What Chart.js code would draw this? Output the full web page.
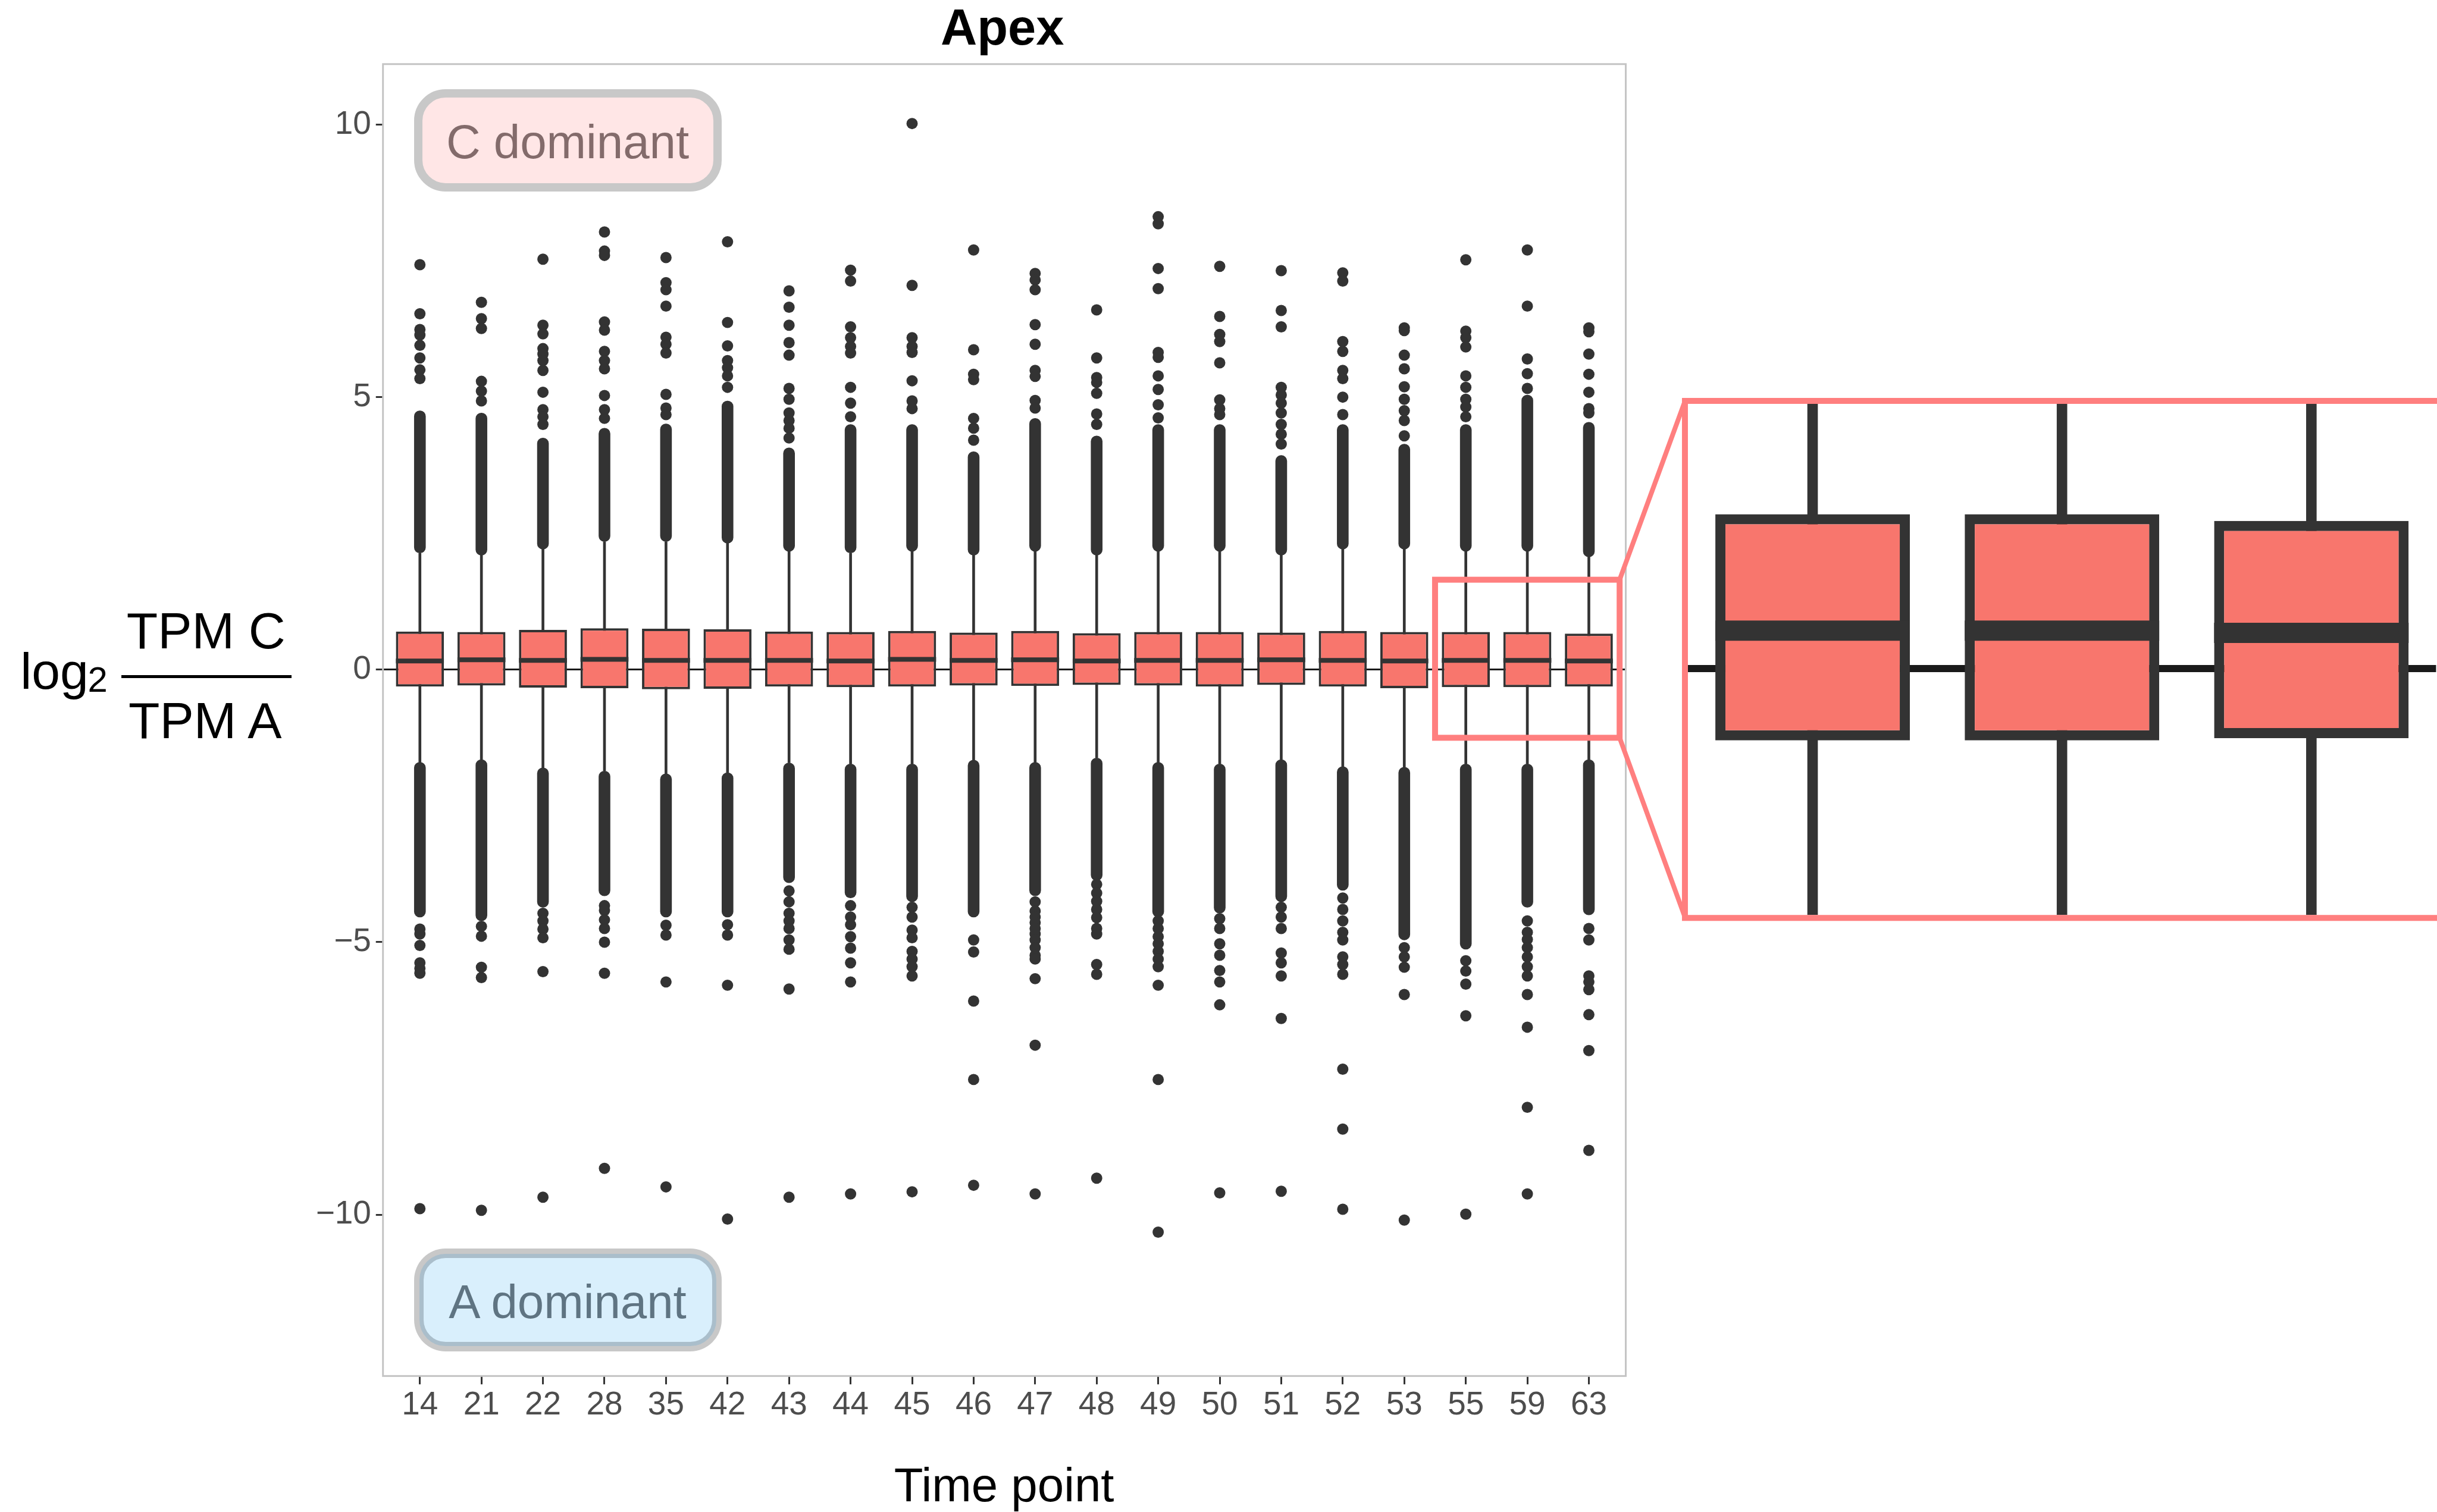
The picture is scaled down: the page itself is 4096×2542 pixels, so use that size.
<!DOCTYPE html>
<html lang="en">
<head>
	<meta charset="UTF-8"/>
	<title>Apex</title>
	<script src="https://cdn.jsdelivr.net/npm/chart.js"></script>
	<style>
		html, body {
			margin: 0;
			padding: 0;
			background: #ffffff;
		}
		body {
			position: relative;
			width: 4096px;
			height: 2542px;
			overflow: hidden;
			font-family: "Liberation Sans", Arial, Helvetica, sans-serif;
		}
		.layer {
			position: absolute;
		}
		.txt {
			position: absolute;
			white-space: nowrap;
			line-height: 1;
		}
		.tag {
			position: absolute;
			box-sizing: border-box;
		}
	</style>
</head>
<body>
<canvas id="mainChart" class="layer" width="4096" height="2542" style="left:0;top:0;"></canvas>
<canvas id="insetChart" class="layer"></canvas>

<script>
	const S = 0.998;   // reference -> window

	const categories = ["14", "21", "22", "28", "35", "42", "43", "44", "45", "46",
		"47", "48", "49", "50", "51", "52", "53", "55", "59", "63"];

	const q1 = [-0.31, -0.29, -0.33, -0.34, -0.36, -0.35, -0.31, -0.32, -0.31, -0.29,
		-0.30, -0.28, -0.29, -0.31, -0.28, -0.31, -0.34, -0.32, -0.32, -0.31];
	const median = [0.16, 0.18, 0.17, 0.19, 0.17, 0.17, 0.17, 0.16, 0.19, 0.17,
		0.18, 0.16, 0.17, 0.17, 0.18, 0.17, 0.16, 0.17, 0.17, 0.16];
	const q3 = [0.70, 0.69, 0.73, 0.76, 0.75, 0.74, 0.70, 0.69, 0.71, 0.68,
		0.71, 0.67, 0.69, 0.69, 0.68, 0.71, 0.69, 0.69, 0.69, 0.66];

	const whiskerLow = [-1.70, -1.65, -1.80, -1.86, -1.91, -1.89, -1.71, -1.73, -1.73, -1.66,
		-1.70, -1.62, -1.70, -1.73, -1.65, -1.78, -1.79, -1.73, -1.73, -1.65];
	const whiskerHigh = [2.14, 2.10, 2.21, 2.35, 2.35, 2.32, 2.17, 2.14, 2.17, 2.10,
		2.17, 2.10, 2.17, 2.17, 2.10, 2.21, 2.21, 2.17, 2.17, 2.07];

	// dense runs of outliers that merge into one column
	const upperDenseTop = [4.75, 4.71, 4.25, 4.43, 4.51, 4.93, 4.07, 4.50, 4.50, 4.00,
		4.61, 4.29, 4.50, 4.50, 3.93, 4.50, 4.14, 4.50, 5.04, 4.54];
	const lowerDenseBottom = [-4.54, -4.61, -4.36, -4.15, -4.54, -4.54, -3.91, -4.19, -4.26, -4.54,
		-4.15, -3.87, -4.54, -4.47, -4.26, -4.05, -4.96, -5.13, -4.36, -4.50];

	const upperPoints = [
		[7.43, 6.53, 6.24, 6.14, 5.95, 5.72, 5.50, 5.34],
		[6.74, 6.44, 6.26, 5.29, 5.11, 4.93],
		[7.53, 6.32, 6.16, 5.89, 5.79, 5.67, 5.49, 5.09, 4.77, 4.64, 4.50],
		[8.03, 7.68, 7.60, 6.38, 6.23, 5.84, 5.67, 5.52, 5.03, 4.77, 4.61],
		[7.56, 7.10, 6.97, 6.67, 6.10, 5.97, 5.81, 5.05, 4.80, 4.68],
		[7.85, 6.37, 5.94, 5.67, 5.54, 5.39, 5.18],
		[6.95, 6.65, 6.32, 6.00, 5.77, 5.16, 4.96, 4.71, 4.57, 4.43, 4.25],
		[7.33, 7.13, 6.29, 6.09, 5.93, 5.81, 5.18, 4.89, 4.64],
		[10.02, 7.05, 6.09, 5.93, 5.82, 5.30, 4.93, 4.79],
		[7.70, 5.87, 5.42, 5.32, 4.61, 4.43, 4.21],
		[7.27, 7.15, 6.97, 6.33, 5.97, 5.49, 5.38, 4.94, 4.80],
		[6.60, 5.72, 5.36, 5.27, 5.07, 4.69, 4.50],
		[8.31, 8.18, 7.36, 6.99, 5.82, 5.73, 5.39, 5.14, 4.86, 4.62],
		[7.40, 6.48, 6.15, 6.02, 5.63, 4.95, 4.79, 4.68],
		[7.32, 6.59, 6.29, 5.18, 5.04, 4.89, 4.71, 4.50, 4.32, 4.14],
		[7.28, 7.13, 6.02, 5.84, 5.49, 5.34, 5.00, 4.68],
		[6.27, 6.22, 5.77, 5.52, 5.19, 4.96, 4.75, 4.57, 4.29],
		[7.52, 6.21, 6.09, 5.92, 5.39, 5.18, 4.96, 4.82, 4.64],
		[7.70, 6.67, 5.70, 5.43, 5.16],
		[6.27, 6.20, 5.79, 5.42, 5.09, 4.79, 4.71]
	];

	const lowerPoints = [
		[-4.76, -4.85, -5.06, -5.38, -5.48, -5.57, -9.89],
		[-4.71, -4.89, -5.46, -5.65, -9.92],
		[-4.47, -4.61, -4.76, -4.92, -5.54, -9.68],
		[-4.33, -4.42, -4.59, -4.75, -5.00, -5.57, -9.15],
		[-4.69, -4.87, -5.73, -9.49],
		[-4.68, -4.87, -5.79, -10.08],
		[-4.06, -4.26, -4.47, -4.61, -4.75, -4.96, -5.13, -5.86, -9.68],
		[-4.33, -4.54, -4.68, -4.90, -5.11, -5.38, -5.73, -9.62],
		[-4.36, -4.54, -4.78, -4.92, -5.17, -5.31, -5.45, -5.62, -9.58],
		[-4.96, -5.18, -6.08, -7.52, -9.46],
		[-4.26, -4.43, -4.54, -4.64, -4.75, -4.85, -4.96, -5.10, -5.24, -5.31, -5.67, -6.89, -9.62],
		[-3.94, -4.10, -4.25, -4.40, -4.55, -4.75, -4.85, -5.41, -5.59, -9.33],
		[-4.61, -4.75, -4.90, -5.03, -5.17, -5.31, -5.45, -5.79, -7.52, -10.32],
		[-4.57, -4.75, -5.03, -5.24, -5.52, -5.73, -6.15, -9.60],
		[-4.36, -4.54, -4.75, -5.20, -5.38, -5.62, -6.40, -9.57],
		[-4.19, -4.40, -4.61, -4.82, -4.96, -5.27, -5.41, -5.59, -7.33, -8.43, -9.90],
		[-5.10, -5.27, -5.46, -5.96, -10.10],
		[-5.34, -5.53, -5.77, -6.35, -9.99],
		[-4.61, -4.82, -4.95, -5.10, -5.27, -5.45, -5.62, -5.96, -6.56, -8.03, -9.62],
		[-4.75, -4.96, -5.62, -5.73, -5.87, -6.33, -6.99, -8.82]
	];

	const yTicks = [-10, -5, 0, 5, 10];
	const yMin = -12.96, yMax = 11.11;

	// magnified window
	const zoomCats = ["55", "59", "63"];
	const zoomLow = -1.25, zoomHigh = 1.65;
	const insetYMin = -1.10, insetYMax = 1.183;

	// layout, reference pixels
	const plot = { left: 645, right: 2738, top: 108, bottom: 2318 };
	const insetArea = { left: 2843, top: 680, right: 4103, bottom: 1541 };
	const insetCanvas = { left: 2820, top: 650, height: 920 };

	const W = 4096, H = 2542;
	const ink = "#333333";
	const zoomPink = "#ff7f7f";

	Chart.defaults.font.family = '"Liberation Sans", Arial, Helvetica, sans-serif';

	const idx = categories.map((c, i) => i);
	const zoomStart = categories.indexOf(zoomCats[0]) - 0.5;
	const zoomEnd = categories.indexOf(zoomCats[zoomCats.length - 1]) + 0.5;

	function halfBox(chart) {
		const x = chart.scales.x;
		return Math.abs(x.getPixelForValue(1) - x.getPixelForValue(0)) * 0.78 / 2;
	}

	function boxSets(w) {
		return [
			{
				type: "scatter",
				data: idx.map(i => ({ x: i, y: median[i] })),
				pointStyle: "line",
				borderColor: ink,
				borderWidth: w.median,
				pointRadius: ctx => halfBox(ctx.chart),
				clip: 0,
				order: 0
			},
			{
				type: "bar",
				data: idx.map(i => ({ x: i, y: [q1[i], q3[i]] })),
				backgroundColor: "#F8766D",
				borderColor: ink,
				borderWidth: w.box,
				borderSkipped: false,
				grouped: false,
				barPercentage: 0.78,
				categoryPercentage: 1,
				clip: 0,
				order: 1
			},
			{
				type: "bar",
				data: idx.map(i => ({ x: i, y: [whiskerLow[i], whiskerHigh[i]] })),
				backgroundColor: ink,
				barThickness: w.whisker,
				grouped: false,
				clip: 0,
				order: 5
			}
		];
	}

	function bandSet(lo, hi) {
		return {
			type: "bar",
			data: idx.map(i => ({ x: i, y: [lo[i], hi[i]] })),
			backgroundColor: ink,
			barThickness: 19 * S,
			borderRadius: 9.5 * S,
			borderSkipped: false,
			grouped: false,
			order: 3
		};
	}

	const outliers = [];
	idx.forEach(i => {
		upperPoints[i].forEach(v => outliers.push({ x: i, y: v }));
		lowerPoints[i].forEach(v => outliers.push({ x: i, y: v }));
	});

	const mainSets = boxSets({ median: 8 * S, box: 4 * S, whisker: 4 * S }).concat([
		bandSet(whiskerHigh, upperDenseTop),
		bandSet(lowerDenseBottom, whiskerLow),
		{
			type: "scatter",
			data: outliers,
			pointRadius: 9.5 * S,
			backgroundColor: ink,
			borderWidth: 0,
			order: 2
		}
	]);

	const insetFrame = {
		left: (insetArea.left - 5) * S,
		top: (insetArea.top - 5) * S,
		bottom: (insetArea.bottom + 5) * S
	};

	const mainDecor = {
		id: "mainDecor",
		beforeDatasetsDraw(chart) {
			const { ctx, chartArea: a } = chart;
			ctx.save();
			ctx.strokeStyle = "#c4c4c4";
			ctx.lineWidth = 3 * S;
			ctx.strokeRect(a.left, a.top, a.right - a.left, a.bottom - a.top);
			ctx.restore();
		},
		afterDatasetsDraw(chart) {
			const { ctx, scales: { x, y } } = chart;
			const x0 = x.getPixelForValue(zoomStart), x1 = x.getPixelForValue(zoomEnd);
			const y0 = y.getPixelForValue(zoomHigh), y1 = y.getPixelForValue(zoomLow);
			ctx.save();
			ctx.strokeStyle = zoomPink;
			ctx.lineWidth = 10 * S;
			ctx.strokeRect(x0, y0, x1 - x0, y1 - y0);
			ctx.lineWidth = 8 * S;
			ctx.beginPath();
			ctx.moveTo(x1, y0);
			ctx.lineTo(insetFrame.left, insetFrame.top);
			ctx.moveTo(x1, y1);
			ctx.lineTo(insetFrame.left, insetFrame.bottom);
			ctx.stroke();
			ctx.restore();
		}
	};

	new Chart(document.getElementById("mainChart"), {
		type: "bar",
		data: { datasets: mainSets },
		options: {
			responsive: false,
			devicePixelRatio: 1,
			animation: false,
			events: [],
			layout: {
				padding: { left: 0, top: plot.top * S, right: W - plot.right * S, bottom: 0 }
			},
			plugins: {
				legend: { display: false },
				tooltip: { enabled: false },
				title: { display: false }
			},
			scales: {
				x: {
					type: "linear",
					min: -0.6,
					max: categories.length - 0.4,
					offset: false,
					afterBuildTicks: s => { s.ticks = idx.map(i => ({ value: i })); },
					afterFit: s => { s.height = H - plot.bottom * S; },
					ticks: {
						callback: v => categories[Math.round(v)],
						autoSkip: false,
						maxRotation: 0,
						color: "#4D4D4D",
						font: { size: 55 * S },
						padding: 3 * S
					},
					grid: {
						drawOnChartArea: false,
						offset: false,
						tickLength: 14 * S,
						tickColor: ink,
						tickWidth: 3 * S
					},
					border: { display: false }
				},
				y: {
					type: "linear",
					min: yMin,
					max: yMax,
					afterBuildTicks: s => { s.ticks = yTicks.map(v => ({ value: v })); },
					afterFit: s => { s.width = plot.left * S; },
					ticks: {
						callback: v => (v < 0 ? "\u2212" + Math.abs(v) : String(v)),
						color: "#4D4D4D",
						font: { size: 55 * S },
						padding: 8 * S
					},
					grid: {
						color: ctx => (ctx.tick && ctx.tick.value === 0 ? "#1a1a1a" : "rgba(0,0,0,0)"),
						lineWidth: 3 * S,
						tickColor: ink,
						tickWidth: 3 * S,
						tickLength: 12 * S
					},
					border: { display: false }
				}
			}
		},
		plugins: [mainDecor]
	});

	// magnified inset
	const insetEl = document.getElementById("insetChart");
	const insetLeft = insetCanvas.left * S;
	const insetTop = insetCanvas.top * S;
	const insetW = Math.round(W - insetLeft);
	const insetH = Math.round(insetCanvas.height * S);
	insetEl.width = insetW;
	insetEl.height = insetH;
	insetEl.style.left = insetLeft + "px";
	insetEl.style.top = insetTop + "px";

	const insetDecor = {
		id: "insetDecor",
		afterDatasetsDraw(chart) {
			const { ctx, chartArea: a } = chart;
			const h = 5 * S;
			ctx.save();
			ctx.strokeStyle = zoomPink;
			ctx.lineWidth = 10 * S;
			ctx.lineJoin = "miter";
			ctx.beginPath();
			ctx.moveTo(chart.width + 20, a.top - h);
			ctx.lineTo(a.left - h, a.top - h);
			ctx.lineTo(a.left - h, a.bottom + h);
			ctx.lineTo(chart.width + 20, a.bottom + h);
			ctx.stroke();
			ctx.restore();
		}
	};

	new Chart(insetEl, {
		type: "bar",
		data: { datasets: boxSets({ median: 34 * S, box: 17 * S, whisker: 17 * S }) },
		options: {
			responsive: false,
			devicePixelRatio: 1,
			animation: false,
			events: [],
			layout: {
				padding: {
					left: insetArea.left * S - insetLeft,
					top: insetArea.top * S - insetTop,
					right: insetW - (insetArea.right * S - insetLeft),
					bottom: insetH - (insetArea.bottom * S - insetTop)
				}
			},
			plugins: {
				legend: { display: false },
				tooltip: { enabled: false }
			},
			scales: {
				x: {
					type: "linear",
					min: zoomStart,
					max: zoomEnd,
					offset: false,
					display: false,
					afterBuildTicks: s => { s.ticks = idx.map(i => ({ value: i })); }
				},
				y: {
					type: "linear",
					min: insetYMin,
					max: insetYMax,
					afterBuildTicks: s => { s.ticks = [{ value: 0 }]; },
					afterFit: s => { s.width = 0; },
					ticks: { display: false },
					grid: { color: "#1a1a1a", lineWidth: 12 * S, drawTicks: false },
					border: { display: false }
				}
			}
		},
		plugins: [insetDecor]
	});

	// text and annotation tags
	function addText(text, x, baseline, size, opts) {
		const el = document.createElement("div");
		el.className = "txt";
		el.textContent = text;
		el.style.fontSize = size * S + "px";
		el.style.left = x * S + "px";
		el.style.top = (baseline - 0.8465 * size) * S + "px";
		el.style.color = opts.color || "#000000";
		if (opts.bold) el.style.fontWeight = "bold";
		if (opts.center) el.style.transform = "translateX(-50%)";
		document.body.appendChild(el);
	}

	function addBox(left, top, width, height, style) {
		const el = document.createElement("div");
		el.className = "tag";
		el.style.left = left * S + "px";
		el.style.top = top * S + "px";
		el.style.width = width * S + "px";
		el.style.height = height * S + "px";
		Object.assign(el.style, style);
		document.body.appendChild(el);
	}

	addText("Apex", 1688, 76, 85, { bold: true, center: true });
	addText("Time point", 1691, 2530, 80, { center: true });

	addText("log", 34.3, 1161, 86, {});
	addText("2", 147.8, 1166, 60, {});
	addText("TPM C", 347, 1093, 86, { center: true });
	addText("TPM A", 345.5, 1244, 86, { center: true });
	addBox(204.5, 1137, 286.5, 5, { background: "#000000" });

	addBox(697, 150, 518, 173, {
		background: "#FFE6E6",
		border: 15 * S + "px solid #C8C8C8",
		borderRadius: 53 * S + "px"
	});
	addText("C dominant", 956, 267.5, 80, { center: true, color: "#836B6B" });

	addBox(706, 2112, 500, 156, {
		background: "#D9EFFC",
		border: 8 * S + "px solid #AABECB",
		boxShadow: "0 0 0 " + 9 * S + "px #C8C8C8",
		borderRadius: 44 * S + "px"
	});
	addText("A dominant", 956, 2221, 80, { center: true, color: "#5F7482" });
</script>
</body>
</html>
